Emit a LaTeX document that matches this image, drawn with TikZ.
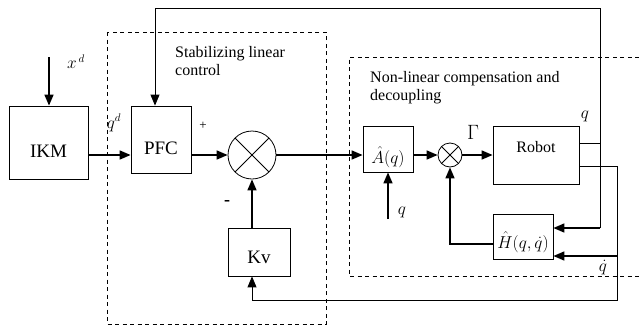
\documentclass[tikz,border=0pt]{standalone}
\usepackage{amsmath,amsfonts,amssymb}
\usepackage{fontspec}
\setmainfont{Liberation Serif}
\usepackage{tikz}
\usetikzlibrary{arrows.meta,calc}

\begin{document}
\begin{tikzpicture}[x=1pt, y=-1pt, >={Triangle[length=11pt,width=9pt]},
    blk/.style={draw, line width=0.8pt, inner sep=0pt, anchor=base},
    sumjn/.style={draw, circle, line width=0.8pt, inner sep=0pt, path picture={
        \draw[line width=0.8pt] (path picture bounding box.north west) -- (path picture bounding box.south east)
        (path picture bounding box.north east) -- (path picture bounding box.south west);}},
    sig/.style={line width=1.6pt},
    fb/.style={line width=0.9pt},
    dashbox/.style={line width=0.7pt, dash pattern=on 4pt off 3.5pt},
    lbl/.style={font=\fontsize{16}{18}\selectfont, inner sep=0pt}]
    \useasboundingbox (0,0) rectangle (639,327);
    \draw[dashbox] (107,32) rectangle (326,324);
    \draw[dashbox] (639,57) -- (349,57) -- (349,276) -- (639,276);
    \node[lbl, anchor=north west, align=left] (stabtxt) at (175,46) {Stabilizing linear\\control};
    \node[lbl, anchor=north west, align=left] (nltxt) at (370,71) {Non-linear compensation and\\decoupling};
    \node[blk, font=\fontsize{19}{21}\selectfont, minimum width=79pt, text height=51pt, text depth=22pt] (ikm) at (48.5,157) {IKM};
    \node[blk, font=\fontsize{19}{21}\selectfont, minimum width=60pt, text height=48pt, text depth=19pt] (pfc) at (161,154) {PFC};
    \node[sumjn, minimum size=48pt] (sum) at (252,155) {};
    \node[blk, font=\fontsize{19}{21}\selectfont, minimum width=62pt, text height=35pt, text depth=13pt] (kv) at (259,263) {Kv};
    \node[blk, font=\fontsize{16}{18}\selectfont, minimum width=50pt, text height=37pt, text depth=9pt] (aq) at (388,163) {$\hat{A}(q)$};
    \node[sumjn, minimum size=24pt] (sum2) at (450,155) {};
    \node[blk, font=\fontsize{16}{18}\selectfont, minimum width=86pt, text height=26pt, text depth=32pt] (robot) at (536,152) {Robot};
    \node[blk, font=\fontsize{17}{19}\selectfont, minimum width=60pt, text height=34pt, text depth=11pt] (hh) at (523,248) {$\hat{H}(q,\dot{q})$};
    \coordinate (xd) at (49,57);
    \coordinate (qin) at (388,219);
    \coordinate (qtap) at (600,143);
    \coordinate (qh) at (600,228);
    \coordinate (ptop) at (155,8);
    \coordinate (dqtap) at (617,166);
    \coordinate (dqh) at (617,256);
    \coordinate (dqbot) at (617,300);
    \draw[sig,->] (xd) -- (xd |- ikm.north);
    \draw[sig,->] (ikm.east |- sum) -- (pfc.west |- sum);
    \draw[sig,->] (pfc.east |- sum) -- (sum.west);
    \draw[sig,->] (sum |- kv.north) -- (sum.south);
    \draw[sig,->] (sum.east) -- (aq.west |- sum);
    \draw[sig,->] (aq.east |- sum2) -- (sum2.west);
    \draw[sig,->] (sum2.east) -- (robot.west |- sum2);
    \draw[sig,->] (qin) -- (qin |- aq.south);
    \draw[fb] (robot.east |- qtap) -- (qtap) -- (qh);
    \draw[fb,->] (qtap) |- (ptop) -- (ptop |- pfc.north);
    \draw[sig,->] (qh) -- (hh.east |- qh);
    \draw[fb,->] (robot.east |- dqtap) -- (dqtap) -- (dqbot) -| (sum |- kv.south);
    \draw[sig,->] (dqh) -- (hh.east |- dqh);
    \draw[sig,->] ([yshift=-7.5pt]hh.west) -| (sum2.south);
    \node[lbl] (xdl) at (76,62) {$x^{\,d}$};
    \node[lbl] (qdl) at (114,123) {$q^{d}$};
    \node[lbl, font=\fontsize{13}{15}\selectfont] (plus) at (203,126) {+};
    \node[lbl, font=\fontsize{18}{20}\selectfont\bfseries] (minus) at (227,203) {-};
    \node[lbl, font=\fontsize{21}{23}\selectfont] (gam) at (473,132) {$\Gamma$};
    \node[lbl] (qout) at (585,116) {$q$};
    \node[lbl] (qinl) at (402,212) {$q$};
    \node[lbl] (dql) at (603,268) {$\dot{q}$};
\end{tikzpicture}
\end{document}
